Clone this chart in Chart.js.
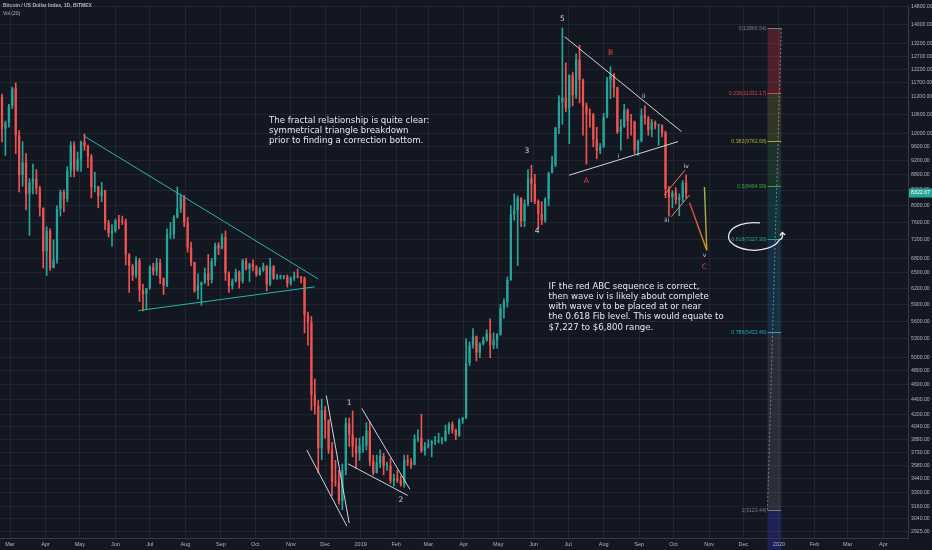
<!DOCTYPE html>
<html>
<head>
<meta charset="utf-8">
<script src="https://cdn.jsdelivr.net/npm/chart.js@4.4.0/dist/chart.umd.min.js"></script>
<style>
  html, body { margin: 0; padding: 0; background: #131722; }
  #wrap { width: 932px; height: 550px; }
</style>
</head>
<body>
<div id="wrap"><canvas id="chart" width="932" height="550"></canvas></div>
<script>
// month ticks on the time axis
const tickDates = ["2018-03-01", "2018-04-01", "2018-05-01", "2018-06-01", "2018-07-01", "2018-08-01",
  "2018-09-01", "2018-10-01", "2018-11-01", "2018-12-01", "2019-01-01", "2019-02-01", "2019-03-01",
  "2019-04-01", "2019-05-01", "2019-06-01", "2019-07-01", "2019-08-01", "2019-09-01", "2019-10-01",
  "2019-11-01", "2019-12-01", "2020-01-01", "2020-02-01", "2020-03-01", "2020-04-01"];
const tickLabels = ["Mar", "Apr", "May", "Jun", "Jul", "Aug", "Sep", "Oct", "Nov", "Dec", "2019", "Feb", "Mar",
  "Apr", "May", "Jun", "Jul", "Aug", "Sep", "Oct", "Nov", "Dec", "2020", "Feb", "Mar", "Apr"];

// price axis ticks (log scale)
const priceTicks = [14800, 14000, 13200, 12700, 12200, 11700, 11200, 10600, 10000, 9600, 9200, 8800, 8400,
  8000, 7600, 7200, 6800, 6500, 6200, 5900, 5600, 5300, 5000, 4800, 4600, 4400, 4200, 4040, 3880, 3730,
  3580, 3440, 3300, 3160, 3040, 2925];

// 3-day candles, first one starts 2018-02-21
const candleStart = "2018-02-21";
const candleSpan = 3;
const firstOpen = 11200;
const closes = [
  10150, 10350, 10900, 11500, 9950, 8800, 9150, 8300, 8600, 8700,
  8450, 7950, 6950, 7400, 6600, 6770, 7920, 8350, 8170, 8920,
  9650, 8930, 9240, 9740, 9620, 9320, 8480, 8500, 8240, 8390,
  7590, 7350, 7400, 7640, 7630, 7620, 6880, 6640, 6450, 6760,
  6170, 6090, 6200, 6620, 6530, 6710, 6390, 6250, 7320, 7330,
  7720, 7930, 8210, 7600, 7030, 6720, 6150, 6260, 6310, 6490,
  6360, 6740, 7080, 7010, 7260, 6500, 6240, 6340, 6520, 6340,
  6750, 6580, 6680, 6620, 6470, 6560, 6640, 6280, 6630, 6390,
  6420, 6420, 6430, 6290, 6400, 6440, 6420, 6400, 5710, 5580,
  4460, 4310, 3780, 4250, 4120, 3760, 3410, 3400, 3210, 3530,
  4080, 3940, 3800, 3720, 3810, 3810, 3990, 3630, 3500, 3610,
  3690, 3580, 3580, 3420, 3440, 3420, 3380, 3640, 3620, 3590,
  3890, 3900, 3750, 3800, 3830, 3860, 3860, 3870, 3870, 3990,
  4070, 4000, 3930, 4120, 4150, 4920, 5200, 5340, 5080, 5220,
  5280, 5390, 5200, 5280, 5370, 5830, 5940, 6360, 7790, 7880,
  8200, 7630, 8050, 8710, 8550, 8120, 7800, 7650, 8170, 8850,
  9080, 10180, 11020, 11180, 10820, 11980, 11260, 12580, 11810, 10890,
  10640, 10600, 9820, 9490, 9600, 10540, 11790, 11980, 11540, 10050,
  10220, 10760, 10400, 10370, 9500, 9770, 10580, 10490, 10110, 10360,
  10260, 10270, 10030, 8430, 8210, 8330, 8150, 8210, 8590, 8322.67
];
const highs = [
  11300, 10400, 10950, 11550, 11700, 10100, 9750, 9400, 8700, 9100,
  8950, 8500, 7950, 7500, 7450, 7200, 8000, 8400, 8400, 9030,
  9750, 9750, 9450, 9780, 9990, 9650, 9380, 8880, 8500, 8600,
  8400, 7650, 7550, 7680, 7770, 7750, 7680, 6900, 6680, 6830,
  6800, 6280, 6200, 6650, 6700, 6800, 6780, 6400, 7450, 7600,
  7760, 8480, 8290, 8260, 7720, 7150, 6720, 6480, 6320, 6600,
  6880, 6800, 7130, 7140, 7330, 7400, 6520, 6380, 6580, 6540,
  6780, 6800, 6700, 6770, 6650, 6610, 6700, 6650, 6800, 6650,
  6470, 6460, 6450, 6460, 6420, 6520, 6580, 6430, 6420, 5760,
  5680, 4680, 4380, 4400, 4300, 4130, 3850, 3640, 3530, 3600,
  4150, 4150, 4240, 3900, 3900, 3920, 4090, 4100, 3700, 3700,
  3760, 3720, 3620, 3660, 3490, 3530, 3470, 3700, 3700, 3660,
  3940, 4000, 4200, 3850, 3880, 3870, 3920, 3960, 3910, 4060,
  4090, 4100, 4010, 4140, 4160, 5300, 5250, 5470, 5350, 5240,
  5330, 5450, 5640, 5400, 5390, 5900, 6000, 6420, 8000, 8300,
  8250, 8200, 8150, 8950, 9070, 8820, 8150, 8100, 8200, 8880,
  9330, 10200, 11250, 13870, 12450, 12000, 12100, 12800, 13150, 11850,
  11000, 10800, 10650, 10200, 9700, 10650, 11900, 12300, 12050, 11550,
  10450, 10950, 10800, 10620, 10400, 9800, 10800, 10900, 10550, 10450,
  10400, 10300, 10280, 10080, 8500, 8380, 8460, 8300, 8650, 8800
];
const lows = [
  9750, 9350, 10200, 10800, 9400, 8350, 8500, 7900, 7300, 8300,
  8300, 7750, 6600, 6450, 6550, 6600, 6700, 7750, 7850, 8100,
  8750, 8750, 8900, 8900, 9500, 9000, 8200, 8350, 7950, 8100,
  7430, 7260, 7060, 7370, 7450, 7550, 6660, 6120, 6350, 6400,
  5950, 5780, 5800, 6180, 6460, 6450, 6290, 6080, 6230, 7230,
  7230, 7700, 7840, 7500, 6930, 6650, 6120, 6000, 5880, 6290,
  6250, 6300, 6650, 6880, 7000, 6350, 6120, 6180, 6320, 6200,
  6300, 6560, 6330, 6540, 6430, 6450, 6530, 6150, 6250, 6370,
  6370, 6380, 6380, 6220, 6260, 6350, 6400, 6300, 5400, 5200,
  4250, 4200, 3500, 3650, 3900, 3720, 3260, 3360, 3180, 3125,
  3480, 3800, 3680, 3550, 3640, 3730, 3760, 3580, 3480, 3500,
  3560, 3480, 3530, 3390, 3360, 3400, 3360, 3350, 3580, 3550,
  3590, 3860, 3730, 3700, 3780, 3680, 3820, 3840, 3830, 3860,
  3950, 3960, 3880, 3920, 4080, 4140, 4880, 5150, 4950, 5000,
  5200, 5260, 5000, 5140, 5150, 5360, 5650, 5850, 6350, 7650,
  6650, 7500, 7500, 8000, 8100, 8050, 7450, 7550, 7600, 8000,
  8900, 9030, 10000, 10300, 10700, 9700, 10900, 11150, 11000, 9950,
  9100, 10200, 9600, 9250, 9400, 9580, 10500, 11150, 11200, 10000,
  9500, 10200, 9850, 9950, 9400, 9350, 9750, 10300, 9950, 9900,
  10150, 9650, 9900, 8200, 7750, 7950, 8050, 7760, 8100, 8200
];

// fib retracement drawn on the right
const fibRatios = [0, 0.236, 0.382, 0.5, 0.618, 0.786, 1];
const fibPrices = [13866.54, 11331.17, 9762.68, 8494.99, 7227.30, 5422.46, 3123.44];
const fibDates = ["2019-12-22", "2020-01-03"];

// drawings: [date, price] pairs
const cyanLines = [
  [["2018-05-04", 9940], ["2018-11-25", 6380]],
  [["2018-06-21", 5785], ["2018-11-22", 6226]]
];
const whiteLines = [
  [["2018-11-15", 3759], ["2018-12-20", 2969]],
  [["2018-12-02", 4448], ["2018-12-22", 2997]],
  [["2018-12-21", 3601], ["2019-02-11", 3266]],
  [["2019-01-02", 4274], ["2019-02-13", 3327]],
  [["2019-06-28", 13496], ["2019-10-08", 10062]],
  [["2019-07-02", 8795], ["2019-10-05", 9758]]
];
const orangeLines = [
  [["2019-09-23", 8274], ["2019-10-11", 8932]],
  [["2019-09-29", 7735], ["2019-10-15", 8274]]
];
const projection = [["2019-10-15", 8074], ["2019-10-30", 6972], ["2019-10-28", 8478]];
const waveLabels = [
  ["5", "2019-06-26", 14259, "#d1d4dc"], ["3", "2019-05-26", 9476, "#d1d4dc"], ["4", "2019-06-04", 7400, "#d1d4dc"],
  ["1", "2018-12-22", 4347, "#d1d4dc"], ["2", "2019-02-05", 3215, "#d1d4dc"],
  ["B", "2019-08-07", 12851, "#e0433f"], ["A", "2019-07-17", 8647, "#e0433f"], ["C", "2019-10-28", 6613, "#e0433f"],
  ["i", "2019-08-14", 9333, "#d1d4dc"], ["ii", "2019-09-05", 11228, "#d1d4dc"], ["iii", "2019-09-25", 7651, "#d1d4dc"],
  ["iv", "2019-10-12", 9047, "#d1d4dc"], ["v", "2019-10-28", 6857, "#d1d4dc"]
];
const noteOne = ["The fractal relationship is quite clear:", "symmetrical triangle breakdown",
  "prior to finding a correction bottom."];
const noteOneAt = ["2018-10-13", 10404];
const noteTwo = ["IF the red ABC sequence is correct,", "then wave iv is likely about complete",
  "with wave v to be placed at or near", "the 0.618 Fib level. This would equate to",
  "$7,227 to $6,800 range."];
const noteTwoAt = ["2019-06-14", 6230];
const ellipseBox = { from: "2019-11-18", to: "2020-01-02", high: 7596, low: 6972 };
const arrowTip = ["2020-01-04", 7366];

const origin = Date.UTC(2018, 2, 1);
function dayOf(s) {
  const [y, m, d] = s.split("-").map(Number);
  return (Date.UTC(y, m - 1, d) - origin) / 86400000;
}

const tickDays = tickDates.map(dayOf);
const opens = [firstOpen, ...closes.slice(0, -1)];
const centers = closes.map((c, i) => dayOf(candleStart) + i * candleSpan + (candleSpan - 1) / 2);
const candleColors = closes.map((c, i) => (c >= opens[i] ? "#26a69a" : "#ef5350"));
const lastPrice = closes[closes.length - 1];

const gridColor = "rgba(42, 46, 57, 0.6)";
const textColor = "#b2b5be";
const bandColors = ["rgba(242,54,69,0.26)", "rgba(175,175,55,0.2)", "rgba(76,175,80,0.17)",
  "rgba(8,160,140,0.2)", "rgba(33,140,200,0.2)", "rgba(120,123,134,0.24)"];
const belowColor = "rgba(63,63,234,0.25)";
const levelColors = ["#787b86", "#e0433f", "#a8a83a", "#43a047", "#1fa594", "#22a6c0", "#787b86"];

const overlay = {
  id: "overlay",
  beforeDraw(chart) {
    const c = chart.ctx;
    c.save();
    c.fillStyle = "#131722";
    c.fillRect(0, 0, chart.width, chart.height);
    // time axis highlight of the fib range, under the axis labels
    const xs = chart.scales.x;
    const fx0 = xs.getPixelForValue(dayOf(fibDates[0]));
    const fx1 = xs.getPixelForValue(dayOf(fibDates[1]));
    c.fillStyle = "#1d2056";
    c.fillRect(fx0, chart.chartArea.bottom + 1, fx1 - fx0, chart.height - chart.chartArea.bottom - 1);
    c.restore();
  },
  afterDraw(chart) {
    const { ctx, chartArea } = chart;
    const xs = chart.scales.x;
    const ys = chart.scales.y;
    const px = (d) => xs.getPixelForValue(dayOf(d));
    const py = (p) => ys.getPixelForValue(p);

    function line(a, b, color, width) {
      ctx.beginPath();
      ctx.moveTo(px(a[0]), py(a[1]));
      ctx.lineTo(px(b[0]), py(b[1]));
      ctx.strokeStyle = color;
      ctx.lineWidth = width;
      ctx.stroke();
    }

    // fib retracement
    const fx0 = px(fibDates[0]);
    const fx1 = px(fibDates[1]);
    ctx.save();
    for (let i = 0; i < fibPrices.length - 1; i++) {
      ctx.fillStyle = bandColors[i];
      ctx.fillRect(fx0, py(fibPrices[i]), fx1 - fx0, py(fibPrices[i + 1]) - py(fibPrices[i]));
    }
    ctx.fillStyle = belowColor;
    ctx.fillRect(fx0, py(fibPrices[fibPrices.length - 1]), fx1 - fx0,
      chartArea.bottom - py(fibPrices[fibPrices.length - 1]));
    ctx.font = '5.2px "Liberation Sans"';
    ctx.textAlign = "right";
    ctx.textBaseline = "middle";
    fibPrices.forEach((p, i) => {
      const yy = Math.round(py(p)) + 0.5;
      ctx.beginPath();
      ctx.moveTo(fx0, yy);
      ctx.lineTo(fx1, yy);
      ctx.strokeStyle = levelColors[i];
      ctx.lineWidth = 1;
      ctx.stroke();
      ctx.fillStyle = levelColors[i];
      ctx.fillText(fibRatios[i] + "(" + p.toFixed(2) + ")", fx0 - 1, yy);
    });
    ctx.setLineDash([2, 2]);
    line([fibDates[1], fibPrices[0]], [fibDates[0], fibPrices[fibPrices.length - 1]], "#787b86", 1);
    ctx.setLineDash([]);
    ctx.restore();

    ctx.save();
    ctx.beginPath();
    ctx.rect(chartArea.left, chartArea.top, chartArea.right - chartArea.left, chartArea.bottom - chartArea.top);
    ctx.clip();
    cyanLines.forEach((l) => line(l[0], l[1], "#26b5aa", 1));
    whiteLines.forEach((l) => line(l[0], l[1], "#d1d4dc", 1));
    orangeLines.forEach((l) => line(l[0], l[1], "#ef7d57", 1));

    // projected wave v
    const a = projection[0], b = projection[1], c = projection[2];
    let g = ctx.createLinearGradient(px(a[0]), py(a[1]), px(b[0]), py(b[1]));
    g.addColorStop(0, "#e53935");
    g.addColorStop(1, "#d49a28");
    line(a, b, g, 1.4);
    g = ctx.createLinearGradient(px(b[0]), py(b[1]), px(c[0]), py(c[1]));
    g.addColorStop(0, "#d49a28");
    g.addColorStop(1, "#8bc34a");
    line(b, c, g, 1.4);

    // hand drawn ellipse with arrow
    const ex0 = px(ellipseBox.from), ex1 = px(ellipseBox.to);
    const ey0 = py(ellipseBox.high), ey1 = py(ellipseBox.low);
    const cx = (ex0 + ex1) / 2, cy = (ey0 + ey1) / 2, rx = (ex1 - ex0) / 2, ry = (ey1 - ey0) / 2;
    ctx.beginPath();
    ctx.ellipse(cx, cy, rx, ry, 0, -1.35, 0.25, true);
    const tx = px(arrowTip[0]), ty = py(arrowTip[1]);
    ctx.quadraticCurveTo(tx + 1, cy + ry * 0.2, tx, ty);
    ctx.strokeStyle = "#e8e8e8";
    ctx.lineWidth = 1.3;
    ctx.stroke();
    ctx.beginPath();
    ctx.moveTo(tx - 2.5, ty + 3);
    ctx.lineTo(tx, ty);
    ctx.lineTo(tx + 2.8, ty + 2.5);
    ctx.stroke();

    // wave labels
    ctx.textAlign = "center";
    ctx.textBaseline = "middle";
    waveLabels.forEach(([t, d, p, col]) => {
      ctx.font = (t.length > 1 || t === "i" || t === "v" ? "6px" : "7.5px") + ' "DejaVu Sans"';
      ctx.fillStyle = col;
      ctx.fillText(t, px(d), py(p));
    });

    // notes
    ctx.textAlign = "left";
    ctx.fillStyle = "#e6e8ee";
    ctx.font = '8.6px "DejaVu Sans"';
    noteOne.forEach((t, i) => ctx.fillText(t, px(noteOneAt[0]), py(noteOneAt[1]) + i * 10));
    noteTwo.forEach((t, i) => ctx.fillText(t, px(noteTwoAt[0]), py(noteTwoAt[1]) + i * 10.2));
    ctx.restore();

    // last price label
    ctx.save();
    const ly = py(lastPrice);
    ctx.fillStyle = "#26a69a";
    ctx.fillRect(chartArea.right + 1, ly - 4.5, chart.width - chartArea.right - 1, 9);
    ctx.fillStyle = "#ffffff";
    ctx.font = '5.3px "Liberation Sans"';
    ctx.textAlign = "left";
    ctx.textBaseline = "middle";
    ctx.fillText(lastPrice.toFixed(2), chartArea.right + 3, ly);

    // header
    ctx.fillStyle = textColor;
    ctx.font = 'bold 5px "Liberation Sans"';
    ctx.fillText("Bitcoin / US Dollar Index, 1D, BITMEX", 3, 6);
    ctx.font = '5px "Liberation Sans"';
    ctx.fillText("Vol (20)", 3, 14);
    ctx.restore();
  }
};

new Chart(document.getElementById("chart"), {
  type: "bar",
  data: {
    datasets: [
      {
        label: "wicks",
        data: closes.map((c, i) => ({ x: centers[i], y: [lows[i], highs[i]] })),
        backgroundColor: candleColors,
        barThickness: 1,
        grouped: false,
        order: 2
      },
      {
        label: "bodies",
        data: closes.map((c, i) => ({ x: centers[i], y: [opens[i], c] })),
        backgroundColor: candleColors,
        barPercentage: 0.66,
        categoryPercentage: 1,
        minBarLength: 1,
        grouped: false,
        order: 1
      }
    ]
  },
  options: {
    responsive: false,
    animation: false,
    devicePixelRatio: 1,
    layout: { padding: 0 },
    plugins: { legend: { display: false }, tooltip: { enabled: false } },
    scales: {
      x: {
        type: "linear",
        min: -8.73,
        max: 783.6,
        offset: false,
        grid: { color: gridColor, offset: false, drawTicks: false },
        border: { color: "#363a45" },
        ticks: {
          autoSkip: false,
          maxRotation: 0,
          padding: 3,
          color: textColor,
          font: { size: 5.5, family: "Liberation Sans" },
          callback: (v, i) => tickLabels[i]
        },
        afterBuildTicks: (s) => { s.ticks = tickDays.map((v) => ({ value: v })); },
        afterFit: (s) => { s.height = 12; }
      },
      y: {
        type: "logarithmic",
        position: "right",
        min: 2863,
        max: 14837,
        grid: { color: gridColor, drawTicks: false },
        border: { color: "#363a45" },
        ticks: {
          autoSkip: false,
          padding: 3,
          color: textColor,
          font: { size: 5.2, family: "Liberation Sans" },
          callback: (v) => Number(v).toFixed(2)
        },
        afterBuildTicks: (s) => { s.ticks = priceTicks.map((v) => ({ value: v })); },
        afterFit: (s) => { s.width = 24; }
      }
    }
  },
  plugins: [overlay]
});
</script>
</body>
</html>
